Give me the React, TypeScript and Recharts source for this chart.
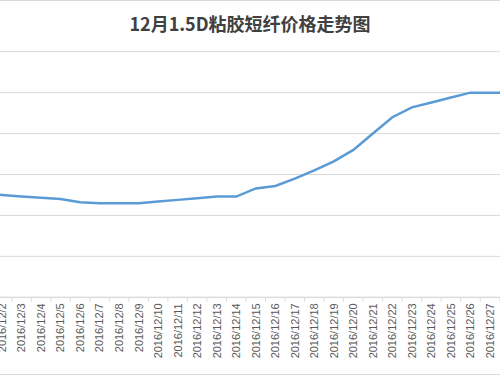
import React from 'react';
import {CartesianGrid, Line, LineChart, XAxis, YAxis} from "recharts";

const dates = [
    '2016/12/1', '2016/12/2', '2016/12/3', '2016/12/4', '2016/12/5', '2016/12/6', '2016/12/7',
    '2016/12/8', '2016/12/9', '2016/12/10', '2016/12/11', '2016/12/12', '2016/12/13', '2016/12/14',
    '2016/12/15', '2016/12/16', '2016/12/17', '2016/12/18', '2016/12/19', '2016/12/20', '2016/12/21',
    '2016/12/22', '2016/12/23', '2016/12/24', '2016/12/25', '2016/12/26', '2016/12/27', '2016/12/28',
];
const prices = [
    14270, 14250, 14230, 14215, 14200, 14160, 14150,
    14150, 14150, 14170, 14190, 14210, 14230, 14230,
    14330, 14360, 14450, 14550, 14660, 14800, 15000,
    15200, 15320, 15380, 15440, 15500, 15500, 15500,
];
const yTicks = [13000, 13500, 14000, 14500, 15000, 15500, 16000];

const BLUE = '#5B9BD5';
const GRID = '#D9D9D9';
const TEXT = '#595959';

const CHART_W = 532;
const CHART_H = 375;
const PAD = 2.5;
const STEP = (CHART_W - 2 * PAD) / (dates.length - 1);

const data = dates.map((d, i) => ({date: d, price: prices[i]}));

// rotated date label plus a small tick mark between categories
const DateTick = (props: any) => {
    const {x, y, payload} = props;
    return (
        <g>
            <line x1={x + STEP / 2} x2={x + STEP / 2} y1={y} y2={y + 4} stroke={GRID}/>
            <g transform={`translate(${x},${y})`}>
                <text transform="rotate(-90)" x={-6} y={0} dy="0.35em" textAnchor="end"
                      fill={TEXT} fontSize={11} fontFamily="Liberation Sans, Arial, sans-serif">
                    {payload.value}
                </text>
            </g>
        </g>
    );
};

export default function App() {
    return (
        <div style={{
            position: 'absolute', left: 0, top: 0, width: 500, height: 375, overflow: 'hidden',
            background: '#fff', borderTop: `1px solid ${GRID}`, borderBottom: `1px solid ${GRID}`,
            boxSizing: 'border-box'
        }}>
            <div style={{
                position: 'absolute', left: 0, top: 9, width: 500, textAlign: 'center',
                fontFamily: '"Noto Sans CJK SC", sans-serif', fontWeight: 'bold', fontSize: 18,
                lineHeight: '26px', color: '#404040'
            }}>
                12月1.5D粘胶短纤价格走势图
            </div>
            <div style={{position: 'absolute', left: -20, top: -1}}>
                <LineChart data={data} width={CHART_W} height={CHART_H}
                           margin={{top: 51.7, right: 0, bottom: 0, left: 0}}>
                    <CartesianGrid vertical={false} stroke={GRID}/>
                    <XAxis dataKey="date" scale="point" padding={{left: PAD, right: PAD}}
                           height={77.7} interval={0} tickLine={false} tickSize={0} tickMargin={0}
                           axisLine={{stroke: GRID}} tick={<DateTick/>}/>
                    <YAxis hide domain={[13000, 16000]} ticks={yTicks}/>
                    <Line dataKey="price" stroke={BLUE} strokeWidth={2.5} dot={false}
                          activeDot={false} isAnimationActive={false}/>
                </LineChart>
            </div>
        </div>
    );
}
